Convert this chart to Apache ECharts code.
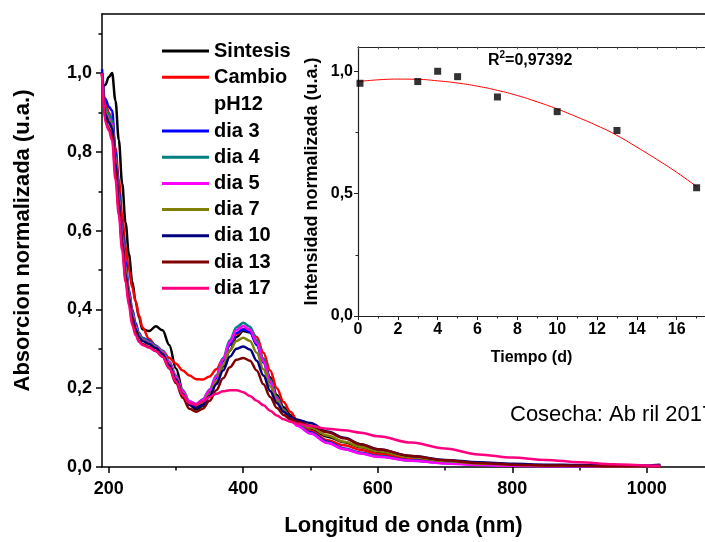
<!DOCTYPE html>
<html>
<head>
<meta charset="utf-8">
<script src="https://cdn.jsdelivr.net/npm/echarts@6.0.0/dist/echarts.min.js"></script>
<style>
html,body{margin:0;padding:0;background:#fff;}
#chart{width:705px;height:542px;}
</style>
</head>
<body>
<div id="chart"></div>
<script>
// ---- Data ----
const wavelengths = [190,195,200,205,210,215,220,225,230,235,240,245,250,260,270,280,290,300,310,320,330,340,350,360,370,380,390,400,410,420,430,440,450,460,470,480,500,525,550,575,600,650,700,750,800,850,900,950,1000,1020];

const sintesis = [0.96,0.97,0.99,1.0,0.93,0.83,0.72,0.62,0.54,0.47,0.42,0.38,0.35, 0.345,0.357,0.347,0.31,0.25,0.195,0.158,0.146, 0.155,0.18,0.215,0.255,0.295,0.33,0.345,0.342,0.315,0.275,0.228,0.183,0.152,0.132,0.118, 0.098,0.077,0.063,0.05,0.038,0.024,0.015,0.009,0.005,0.004,0.003,0.002,0.002,0.003];
const cambioPH12 = [1.0,0.93,0.9,0.88,0.81,0.73,0.64,0.56,0.5,0.455,0.42,0.385,0.355, 0.325,0.308,0.295,0.277,0.262,0.245,0.232,0.223, 0.222,0.23,0.248,0.275,0.31,0.337,0.35,0.35,0.33,0.29,0.245,0.2,0.165,0.14,0.12, 0.092,0.068,0.055,0.043,0.033,0.02,0.012,0.007,0.004,0.003,0.002,0.001,0.001,0.002];
const dia3 = [1.01,0.935,0.915,0.905,0.8,0.7,0.6,0.52,0.45,0.4,0.365,0.34,0.328, 0.32,0.308,0.292,0.265,0.228,0.19,0.163,0.155, 0.167,0.19,0.225,0.268,0.31,0.34,0.35,0.342,0.31,0.265,0.215,0.172,0.143,0.122,0.107, 0.088,0.064,0.047,0.036,0.028,0.017,0.01,0.006,0.004,0.003,0.002,0.002,0.002,0.004];
const dia4 = [1.0,0.91,0.895,0.88,0.79,0.69,0.59,0.51,0.445,0.395,0.36,0.338,0.327, 0.318,0.308,0.295,0.268,0.232,0.195,0.167,0.16, 0.172,0.197,0.233,0.277,0.322,0.355,0.366,0.356,0.322,0.274,0.222,0.177,0.146,0.124,0.108, 0.086,0.062,0.046,0.035,0.027,0.016,0.01,0.006,0.004,0.003,0.002,0.002,0.002,0.004];
const dia5 = [1.0,0.9,0.885,0.87,0.78,0.68,0.58,0.5,0.44,0.39,0.357,0.335,0.323, 0.315,0.305,0.292,0.265,0.23,0.193,0.166,0.16, 0.171,0.195,0.23,0.273,0.317,0.348,0.358,0.348,0.315,0.268,0.217,0.173,0.143,0.121,0.105, 0.085,0.061,0.045,0.034,0.026,0.016,0.009,0.005,0.003,0.002,0.002,0.001,0.001,0.003];
const dia7 = [1.0,0.9,0.88,0.865,0.775,0.675,0.575,0.5,0.435,0.385,0.353,0.333,0.322, 0.313,0.303,0.288,0.26,0.224,0.187,0.16,0.152, 0.162,0.185,0.218,0.258,0.296,0.32,0.328,0.32,0.29,0.248,0.205,0.168,0.143,0.126,0.114, 0.1,0.08,0.064,0.051,0.04,0.025,0.015,0.009,0.006,0.004,0.003,0.002,0.002,0.004];
const dia10 = [1.0,0.895,0.875,0.86,0.77,0.67,0.57,0.49,0.43,0.38,0.35,0.33,0.32, 0.312,0.302,0.287,0.258,0.222,0.185,0.158,0.15, 0.158,0.18,0.21,0.245,0.28,0.3,0.306,0.298,0.27,0.232,0.193,0.162,0.14,0.127,0.12, 0.112,0.09,0.074,0.058,0.045,0.028,0.018,0.012,0.008,0.006,0.005,0.004,0.004,0.006];
const dia13 = [1.0,0.88,0.86,0.84,0.75,0.655,0.56,0.48,0.42,0.37,0.34,0.32,0.312, 0.305,0.295,0.28,0.25,0.213,0.176,0.148,0.14, 0.148,0.168,0.195,0.225,0.253,0.272,0.277,0.27,0.245,0.21,0.178,0.15,0.132,0.122,0.115, 0.105,0.088,0.073,0.057,0.045,0.028,0.017,0.01,0.006,0.004,0.003,0.002,0.002,0.003];
const dia17 = [1.0,0.875,0.855,0.83,0.73,0.64,0.55,0.47,0.41,0.36,0.335,0.318,0.31, 0.303,0.294,0.28,0.252,0.217,0.183,0.162,0.158, 0.167,0.178,0.186,0.192,0.195,0.195,0.19,0.18,0.168,0.157,0.143,0.131,0.121,0.115,0.11, 0.104,0.097,0.093,0.087,0.078,0.062,0.047,0.032,0.024,0.018,0.012,0.007,0.004,0.003];

const seriesNames = ['Sintesis','Cambio pH12','dia 3','dia 4','dia 5','dia 7','dia 10','dia 13','dia 17'];
const seriesColors = ['#000000','#ff0000','#0000ff','#008080','#ff00ff','#808000','#000080','#800000','#ff0080'];
const seriesValues = [sintesis, cambioPH12, dia3, dia4, dia5, dia7, dia10, dia13, dia17];

// inset
const days = [0.1, 3, 4, 5, 7, 10, 13, 17];
const intensity = [0.951, 0.958, 1.0, 0.978, 0.895, 0.835, 0.758, 0.524];
const fitDays = [0,1,2,3,4,5,6,7,8,9,10,11,12,13,14,15,16,17];
const fitValues = [0.958,0.965,0.968,0.967,0.961,0.952,0.939,0.922,0.901,0.875,0.846,0.813,0.778,0.738,0.69,0.64,0.587,0.529];

// ticks
const xMajor = [200,400,600,800,1000];
const xMinor = [300,500,700,900];
const yMajor = [0,0.2,0.4,0.6,0.8,1.0];
const yMinor = [0.1,0.3,0.5,0.7,0.9,1.1];
const tMajor = [0,2,4,6,8,10,12,14,16];
const tMinor = [1,3,5,7,9,11,13,15,17];
const iMajor = [0,0.5,1.0];
const iMinor = [0.25,0.75];

const FONT = 'Arial, "Liberation Sans", sans-serif';
const comma1 = v => Number(v).toFixed(1).replace('.', ',');
const plain = v => String(Math.round(v));

const chart = echarts.init(document.getElementById('chart'), null, {renderer:'canvas'});

const mainSeries = seriesNames.map((n, k) => ({
  name: n, type: 'line', xAxisIndex: 0, yAxisIndex: 0,
  data: wavelengths.map((w, i) => [w, seriesValues[k][i]]),
  showSymbol: false, symbol: 'none', smooth: 0.35, smoothMonotone: 'x',
  lineStyle: {color: seriesColors[k], width: 2.5},
  itemStyle: {color: seriesColors[k]},
  z: 2 + k, silent: true
}));

function axisCommon(extra) {
  return Object.assign({
    type: 'value', splitLine: {show: false},
    axisLine: {show: true, onZero: false, lineStyle: {color: '#000', width: 1.5}},
  }, extra);
}

const X_MAX = 1086.5;
const T_MAX = 17.42;

const option = {
  backgroundColor: '#fff',
  animation: false,
  textStyle: {fontFamily: FONT},
  grid: [
    {left: 102, top: 14, right: 0, bottom: 73, show: false, containLabel: false},
    {left: 358, top: 46.8, right: 0, bottom: 226, show: false, containLabel: false}
  ],
  xAxis: [
    axisCommon({gridIndex: 0, position: 'bottom', min: 190, max: X_MAX,
      axisTick: {show: true, customValues: xMajor, length: 6, lineStyle: {color: '#000', width: 1.5}},
      axisLabel: {show: true, customValues: xMajor, formatter: plain, margin: 13, color: '#000', fontSize: 18, fontWeight: 'bold', fontFamily: FONT},
      name: 'Longitud de onda (nm)', nameLocation: 'middle', nameGap: 48,
      nameTextStyle: {color: '#000', fontSize: 22, fontWeight: 'bold', fontFamily: FONT}}),
    axisCommon({gridIndex: 0, position: 'bottom', min: 190, max: X_MAX,
      axisLine: {show: false},
      axisTick: {show: true, customValues: xMinor, length: 3.5, lineStyle: {color: '#000', width: 1.5}},
      axisLabel: {show: false}}),
    axisCommon({gridIndex: 0, position: 'top', min: 190, max: X_MAX,
      axisTick: {show: false}, axisLabel: {show: false}}),
    axisCommon({gridIndex: 1, position: 'bottom', min: 0, max: T_MAX,
      axisLine: {show: true, onZero: false, lineStyle: {color: '#222', width: 1.2}},
      axisTick: {show: true, customValues: tMajor, length: 4, lineStyle: {color: '#222', width: 1}},
      axisLabel: {show: true, customValues: tMajor, formatter: plain, margin: 6, color: '#000', fontSize: 16, fontWeight: 'bold', fontFamily: FONT},
      name: 'Tiempo (d)', nameLocation: 'middle', nameGap: 34,
      nameTextStyle: {color: '#000', fontSize: 16, fontWeight: 'bold', fontFamily: FONT}}),
    axisCommon({gridIndex: 1, position: 'bottom', min: 0, max: T_MAX,
      axisLine: {show: false},
      axisTick: {show: true, customValues: tMinor, length: 2.5, lineStyle: {color: '#222', width: 1}},
      axisLabel: {show: false}}),
    axisCommon({gridIndex: 1, position: 'top', min: 0, max: T_MAX,
      axisLine: {show: true, onZero: false, lineStyle: {color: '#222', width: 1.2}},
      axisTick: {show: true, inside: true, customValues: fitDays, length: 2.5, lineStyle: {color: '#555', width: 1}},
      axisLabel: {show: false}})
  ],
  yAxis: [
    axisCommon({gridIndex: 0, position: 'left', min: 0, max: 1.15,
      axisTick: {show: true, customValues: yMajor, length: 6, lineStyle: {color: '#000', width: 1.5}},
      axisLabel: {show: true, customValues: yMajor, margin: 10, color: '#000', fontSize: 18, fontWeight: 'bold', fontFamily: FONT, formatter: comma1},
      name: 'Absorcion normalizada (u.a.)', nameLocation: 'middle', nameGap: 68, nameRotate: 90,
      nameTextStyle: {color: '#000', fontSize: 22, fontWeight: 'bold', fontFamily: FONT}}),
    axisCommon({gridIndex: 0, position: 'left', min: 0, max: 1.15,
      axisLine: {show: false},
      axisTick: {show: true, customValues: yMinor, length: 3.5, lineStyle: {color: '#000', width: 1.5}},
      axisLabel: {show: false}}),
    axisCommon({gridIndex: 1, position: 'left', min: 0, max: 1.1,
      axisLine: {show: true, onZero: false, lineStyle: {color: '#222', width: 1.2}},
      axisTick: {show: true, customValues: iMajor, length: 4, lineStyle: {color: '#222', width: 1}},
      axisLabel: {show: true, customValues: iMajor, margin: 5, color: '#000', fontSize: 16, fontWeight: 'bold', fontFamily: FONT, formatter: comma1},
      name: 'Intensidad normalizada (u.a.)', nameLocation: 'middle', nameGap: 37, nameRotate: 90,
      nameTextStyle: {color: '#000', fontSize: 18, fontWeight: 'bold', fontFamily: FONT}}),
    axisCommon({gridIndex: 1, position: 'left', min: 0, max: 1.1,
      axisLine: {show: false},
      axisTick: {show: true, customValues: iMinor, length: 2.5, lineStyle: {color: '#222', width: 1}},
      axisLabel: {show: false}})
  ],
  legend: [
    {data: ['Sintesis', 'Cambio pH12'], orient: 'vertical', left: 162, top: 41, padding: 0,
     itemWidth: 47, itemHeight: 3, itemGap: 6.2, icon: 'rect', selectedMode: false,
     formatter: n => n === 'Cambio pH12' ? 'Cambio' : n,
     textStyle: {color: '#000', fontSize: 20, fontWeight: 'bold', fontFamily: FONT, lineHeight: 20}},
    {data: ['dia 3','dia 4','dia 5','dia 7','dia 10','dia 13','dia 17'], orient: 'vertical', left: 162, top: 121, padding: 0,
     itemWidth: 47, itemHeight: 3, itemGap: 6.2, icon: 'rect', selectedMode: false,
     textStyle: {color: '#000', fontSize: 20, fontWeight: 'bold', fontFamily: FONT, lineHeight: 20}}
  ],
  graphic: [
    {type: 'text', left: 214, top: 94, z: 100,
     style: {text: 'pH12', fill: '#000', font: 'bold 20px ' + FONT}},
    {type: 'text', left: 488, top: 50, z: 100,
     style: {text: '{b|R}{s|2}{b|=0,97392}', fill: '#000',
       rich: {b: {fontSize: 16, fontWeight: 'bold', fontFamily: FONT, fill: '#000', verticalAlign: 'bottom', lineHeight: 19},
              s: {fontSize: 10, fontWeight: 'bold', fontFamily: FONT, fill: '#000', verticalAlign: 'top', lineHeight: 19}}}},
    {type: 'text', left: 510, top: 404, z: 100,
     style: {text: 'Cosecha: Ab ril 2017', fill: '#000', font: '22px ' + FONT}}
  ],
  series: mainSeries.concat([
    {name: 'ajuste', type: 'line', xAxisIndex: 3, yAxisIndex: 2,
     data: fitDays.map((d, i) => [d, fitValues[i]]),
     symbol: 'none', smooth: true, lineStyle: {color: '#ff0000', width: 1}, z: 20, silent: true},
    {name: 'datos', type: 'scatter', xAxisIndex: 3, yAxisIndex: 2,
     data: days.map((d, i) => [d, intensity[i]]),
     symbol: 'rect', symbolSize: 7, itemStyle: {color: '#000'}, z: 21, silent: true}
  ])
};
chart.setOption(option);
</script>
</body>
</html>
